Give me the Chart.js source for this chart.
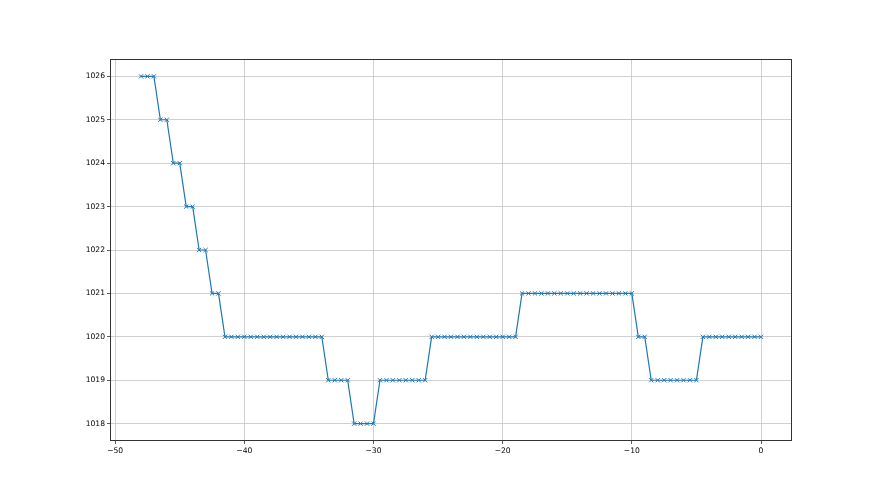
<!DOCTYPE html>
<html>
<head>
<meta charset="utf-8">
<script src="https://cdn.jsdelivr.net/npm/chart.js@4/dist/chart.umd.min.js"></script>
<style>
  html, body { margin: 0; padding: 0; background: #fff; }
  #wrap { width: 880px; height: 495px; position: relative; }
</style>
</head>
<body>
<div id="wrap"><canvas id="pressureChart"></canvas></div>
<script>
// Time offsets (x) and pressure readings (y)
const offsets = [
    -48, -47.5, -47, -46.5, -46, -45.5, -45, -44.5, -44, -43.5,
    -43, -42.5, -42, -41.5, -41, -40.5, -40, -39.5, -39, -38.5,
    -38, -37.5, -37, -36.5, -36, -35.5, -35, -34.5, -34, -33.5,
    -33, -32.5, -32, -31.5, -31, -30.5, -30, -29.5, -29, -28.5,
    -28, -27.5, -27, -26.5, -26, -25.5, -25, -24.5, -24, -23.5,
    -23, -22.5, -22, -21.5, -21, -20.5, -20, -19.5, -19, -18.5,
    -18, -17.5, -17, -16.5, -16, -15.5, -15, -14.5, -14, -13.5,
    -13, -12.5, -12, -11.5, -11, -10.5, -10, -9.5, -9, -8.5,
    -8, -7.5, -7, -6.5, -6, -5.5, -5, -4.5, -4, -3.5,
    -3, -2.5, -2, -1.5, -1, -0.5, 0
];
const pressure = [
    1026, 1026, 1026, 1025, 1025, 1024, 1024, 1023, 1023, 1022,
    1022, 1021, 1021, 1020, 1020, 1020, 1020, 1020, 1020, 1020,
    1020, 1020, 1020, 1020, 1020, 1020, 1020, 1020, 1020, 1019,
    1019, 1019, 1019, 1018, 1018, 1018, 1018, 1019, 1019, 1019,
    1019, 1019, 1019, 1019, 1019, 1020, 1020, 1020, 1020, 1020,
    1020, 1020, 1020, 1020, 1020, 1020, 1020, 1020, 1020, 1021,
    1021, 1021, 1021, 1021, 1021, 1021, 1021, 1021, 1021, 1021,
    1021, 1021, 1021, 1021, 1021, 1021, 1021, 1020, 1020, 1019,
    1019, 1019, 1019, 1019, 1019, 1019, 1019, 1020, 1020, 1020,
    1020, 1020, 1020, 1020, 1020, 1020, 1020
];
const xTicks = [-50, -40, -30, -20, -10, 0];
const yTicks = [1018, 1019, 1020, 1021, 1022, 1023, 1024, 1025, 1026];

// Draw the full axes frame (all four spines)
const framePlugin = {
    id: "frame",
    afterDraw(chart) {
        const a = chart.chartArea;
        const ctx = chart.ctx;
        ctx.save();
        ctx.strokeStyle = "#333";
        ctx.lineWidth = 1;
        ctx.strokeRect(a.left + 0.5, a.top + 0.5, a.right - a.left - 1, a.bottom - a.top - 1);
        ctx.restore();
    }
};

const tickFont = { family: "DejaVu Sans", size: 7.6 };

new Chart(document.getElementById("pressureChart"), {
    type: "line",
    data: {
        datasets: [{
            label: "Pressure",
            data: offsets.map((x, i) => ({ x: x, y: pressure[i] })),
            borderColor: "#1f77b4",
            backgroundColor: "#1f77b4",
            borderWidth: 1.2,
            pointStyle: "crossRot",
            pointRadius: 3,
            pointBorderWidth: 1,
            pointBorderColor: "#1f77b4",
            pointHoverRadius: 3,
            tension: 0,
            fill: false
        }]
    },
    options: {
        responsive: true,
        maintainAspectRatio: false,
        animation: false,
        layout: { padding: { left: 0, right: 88, top: 59, bottom: 0 } },
        plugins: {
            legend: { display: false },
            tooltip: { enabled: false }
        },
        scales: {
            x: {
                type: "linear",
                min: -50.4,
                max: 2.4,
                afterBuildTicks: axis => { axis.ticks = xTicks.map(v => ({ value: v })); },
                afterFit: axis => { axis.height = 54; },
                border: { display: false },
                grid: { color: "#c4c4c4", lineWidth: 0.8, tickLength: 3, tickColor: "#333" },
                ticks: { color: "#000", font: tickFont, padding: 2, maxRotation: 0,
                         callback: v => (v < 0 ? "\u2212" + Math.abs(v) : String(v)) }
            },
            y: {
                type: "linear",
                min: 1017.6,
                max: 1026.4,
                afterBuildTicks: axis => { axis.ticks = yTicks.map(v => ({ value: v })); },
                afterFit: axis => { axis.width = 110; },
                border: { display: false },
                grid: { color: "#c4c4c4", lineWidth: 0.8, tickLength: 3, tickColor: "#333" },
                ticks: { color: "#000", font: tickFont, padding: 2, callback: v => String(v) }
            }
        }
    },
    plugins: [framePlugin]
});
</script>
</body>
</html>
